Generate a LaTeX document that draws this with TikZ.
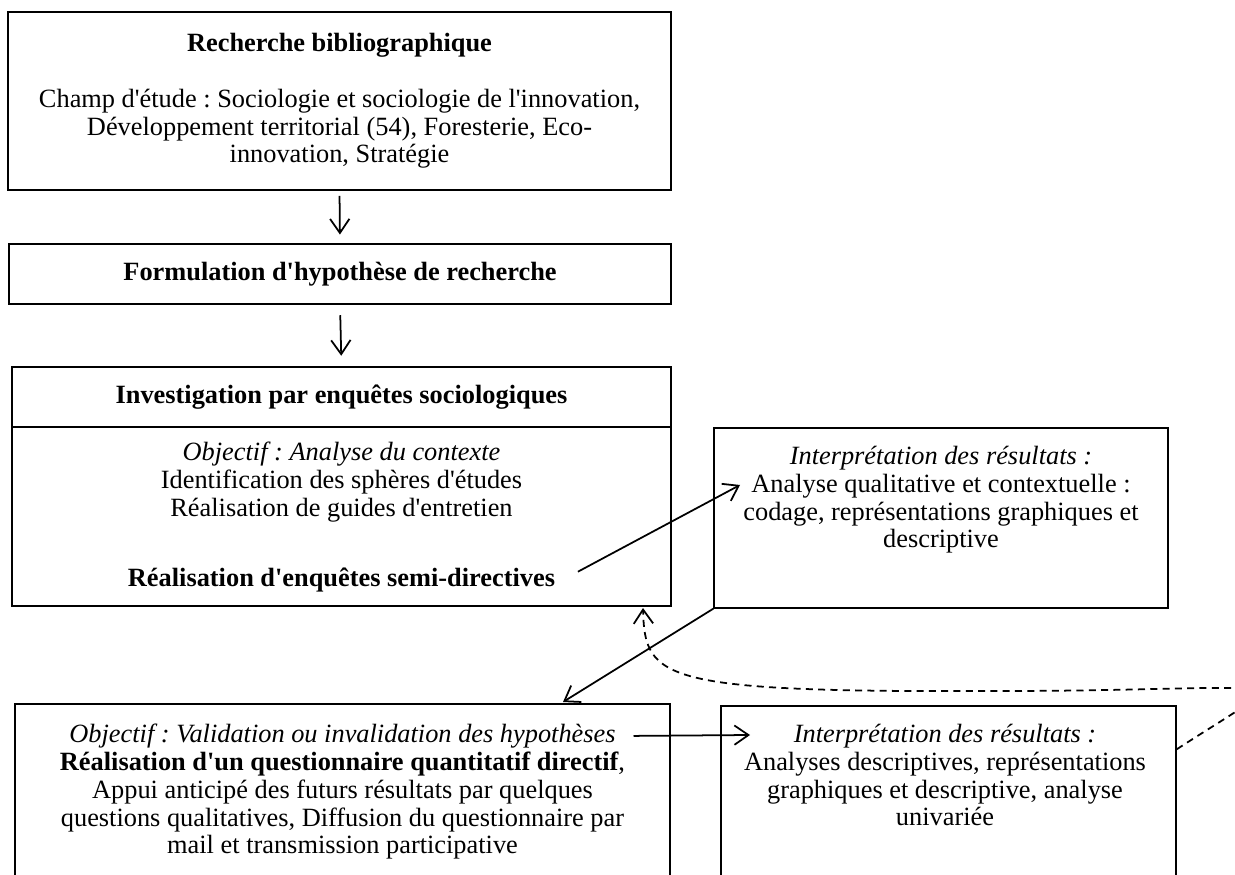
\documentclass[tikz,border=0pt]{standalone}
\usepackage{fontspec}
\setmainfont{Liberation Serif}[Ligatures=TeXOff]
\usepackage{tikz}
\usetikzlibrary{arrows.meta, positioning}
\frenchspacing

\begin{document}
\begin{tikzpicture}[
        font=\fontsize{15}{15.7}\selectfont,
        cadre/.style={draw, rectangle, line width=0.8pt, inner sep=0pt},
        texte/.style={align=center, inner sep=4pt},
        arrow/.style={-{Straight Barb[length=8pt, width=11pt]}, line width=1pt},
        retour/.style={arrow, dash pattern=on 4pt off 3pt}
    ]
        \useasboundingbox (0,0) rectangle (24.7,-17.5);
        \clip (0,0) rectangle (24.7,-17.5);

        % --- Recherche et hypothese ---
        \node[cadre, texte, minimum width=13.26cm, minimum height=3.56cm] (biblio) at (6.79,-2.02)
            {\textbf{Recherche bibliographique}\\[16pt]
             Champ d'étude : Sociologie et sociologie de l'innovation,\\
             Développement territorial (54), Foresterie, Eco-\\
             innovation, Stratégie};
        \node[cadre, texte, minimum width=13.24cm, minimum height=1.2cm] (hypothese) at (6.80,-5.48)
            {\textbf{Formulation d'hypothèse de recherche}};
        \draw[arrow, shorten <=3pt, shorten >=5pt] (biblio.south) -- (hypothese.north);

        % --- Enquetes semi-directives ---
        \node[cadre, texte, minimum width=13.18cm, minimum height=1.2cm] (enquete) at (6.83,-7.94)
            {\textbf{Investigation par enquêtes sociologiques}};
        \node[cadre, minimum width=13.18cm, minimum height=3.58cm] (contexte) at (6.83,-10.33) {};
        \node[texte] (objcontexte) at (6.83,-9.64)
            {\textit{Objectif : Analyse du contexte}\\
             Identification des sphères d'études\\
             Réalisation de guides d'entretien};
        \node[texte] (semidir) at (6.83,-11.60) {\textbf{Réalisation d'enquêtes semi-directives}};
        \draw[arrow, shorten <=6pt, shorten >=6pt] (hypothese.south) -- (enquete.north);

        \node[cadre, minimum width=9.08cm, minimum height=3.6cm] (interpquali) at (18.82,-10.36) {};
        \node[texte] (resquali) at (18.82,-10.00)
            {\textit{Interprétation des résultats :}\\
             Analyse qualitative et contextuelle :\\
             codage, représentations graphiques et\\
             descriptive};
        \coordinate (versquali) at (14.80,-9.70);
        \draw[arrow, shorten <=10pt] (semidir.east) -- (versquali);

        % --- Questionnaire quantitatif ---
        \node[cadre, minimum width=13.10cm, minimum height=3.92cm] (quanti) at (6.85,-16.04) {};
        \node[texte] (objquanti) at (6.85,-14.72)
            {\textit{Objectif : Validation ou invalidation des hypothèses}};
        \node[texte, below=-6pt of objquanti] (detailquanti)
            {\textbf{Réalisation d'un questionnaire quantitatif directif},\\
             Appui anticipé des futurs résultats par quelques\\
             questions qualitatives, Diffusion du questionnaire par\\
             mail et transmission participative};
        \coordinate (versquanti) at (11.26,-14.04);
        \draw[arrow] (interpquali.south west) -- (versquanti);

        \node[cadre, minimum width=9.10cm, minimum height=3.88cm] (interpquanti) at (18.97,-16.06) {};
        \node[texte] (titrequanti) at (18.90,-14.72) {\textit{Interprétation des résultats :}};
        \node[texte, below=-6pt of titrequanti] (resquanti)
            {Analyses descriptives, représentations\\
             graphiques et descriptive, analyse\\
             univariée};
        \coordinate (versinterp) at (15.00,-14.70);
        \draw[arrow, shorten <=6pt] (objquanti.east) -- (versinterp);

        % --- Retour vers les enquetes ---
        \coordinate (depart) at ([yshift=-0.88cm]interpquanti.north east);
        \coordinate (milieu) at (20.0,-13.82);
        \coordinate (arrivee) at (12.86,-12.16);
        \draw[retour] (depart) .. controls +(33:3cm) and +(6cm,0) .. (milieu)
            .. controls (13.2,-13.85) and (12.9,-13.6) .. (arrivee);

    \end{tikzpicture}
\end{document}
